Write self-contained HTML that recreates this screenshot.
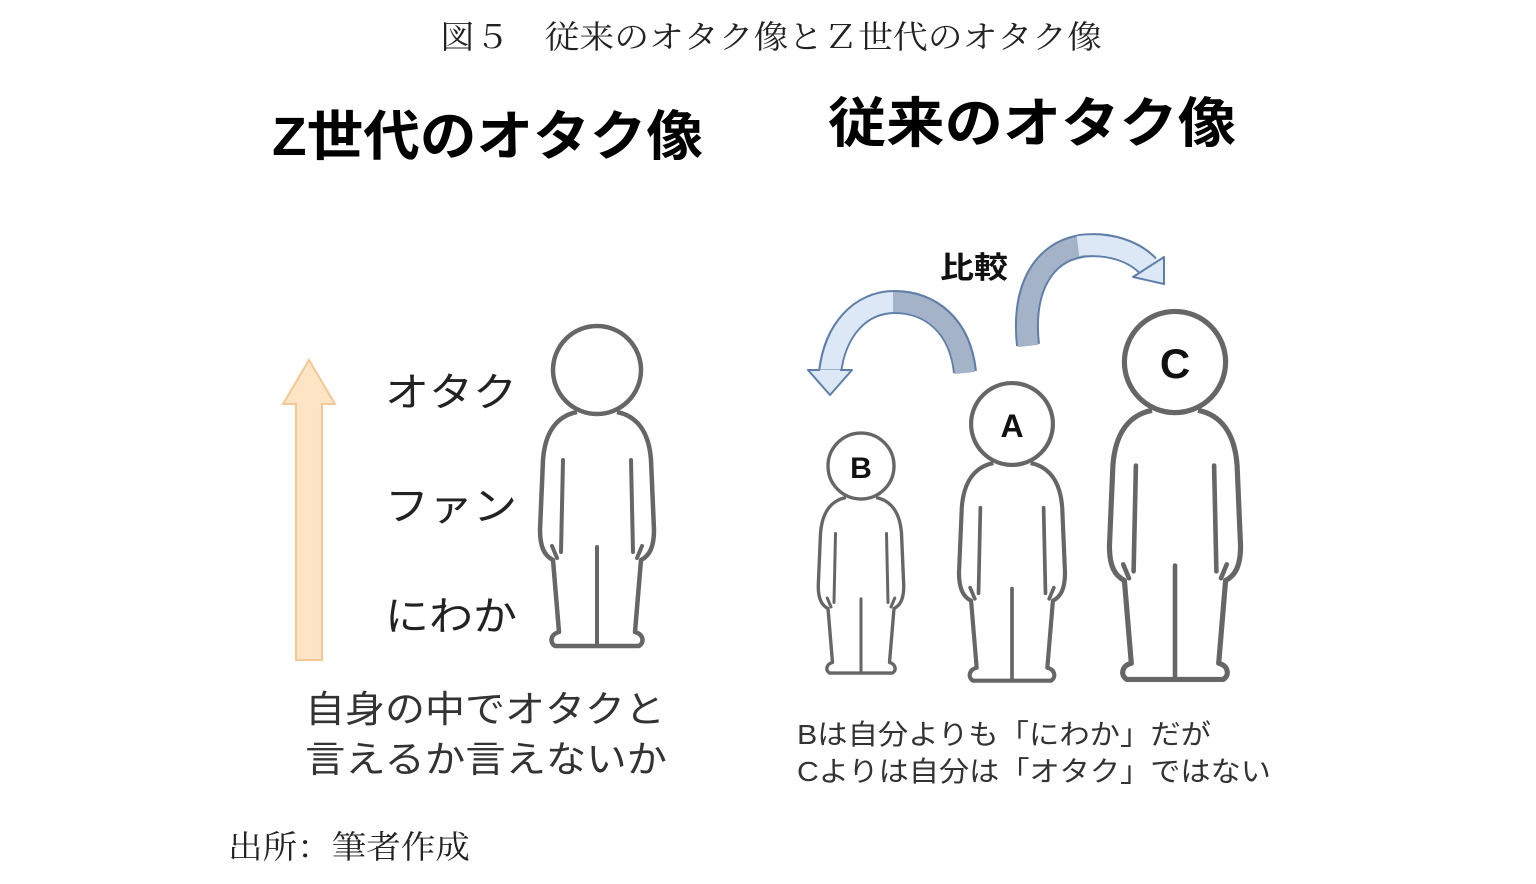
<!DOCTYPE html>
<html><head><meta charset="utf-8"><style>
html,body{margin:0;padding:0;background:#fff;width:1536px;height:884px;overflow:hidden}
svg{display:block}
.serif{font-family:"Noto Serif CJK SC","Liberation Serif",serif}
.sans{font-family:"Liberation Sans","Noto Sans CJK JP",sans-serif}
</style></head><body>
<svg width="1536" height="884" viewBox="0 0 1536 884" xmlns="http://www.w3.org/2000/svg">
<defs>
<g id="fig">
  <ellipse cx="0" cy="47" rx="26" ry="7" fill="#ddd"/>
  <path d="M -20 42 C -40 46 -52 62 -54 90 L -57 160 C -57 178 -52 186 -44 190 L -38 262 C -46 264 -48 272 -42 276 L 42 276 C 48 272 46 264 38 262 L 44 190 C 52 186 57 178 57 160 L 54 90 C 52 62 40 46 20 42" fill="#fff" stroke="#666" stroke-width="4.5" stroke-linejoin="round"/>
  <path d="M -34 90 L -36 182 M 34 90 L 36 182 M 0 177 L 0 276 M -45 176 L -40 188 M 45 176 L 40 188" fill="none" stroke="#666" stroke-width="4" stroke-linecap="round"/>
  <circle cx="0" cy="0" r="44" fill="#fff" stroke="#666" stroke-width="4.5"/>
</g>
</defs>

<text class="serif" x="440" y="48" font-size="32" fill="#222" textLength="662" lengthAdjust="spacingAndGlyphs">図５　従来のオタク像とＺ世代のオタク像</text>

<text class="sans" x="272" y="155" font-size="54" font-weight="bold" fill="#000" textLength="431" lengthAdjust="spacingAndGlyphs">Z世代のオタク像</text>
<text class="sans" x="828" y="142" font-size="54" font-weight="bold" fill="#000" textLength="408" lengthAdjust="spacingAndGlyphs">従来のオタク像</text>

<path d="M309 360 L335 404 L322 404 L322 660 L296 660 L296 404 L283 404 Z" fill="#fde4c4" stroke="#f2c897" stroke-width="2"/>

<text class="sans" x="385" y="406" font-size="40" fill="#222" textLength="132" lengthAdjust="spacingAndGlyphs">オタク</text>
<text class="sans" x="385" y="520" font-size="40" fill="#222" textLength="132" lengthAdjust="spacingAndGlyphs">ファン</text>
<text class="sans" x="385" y="630" font-size="40" fill="#222" textLength="132" lengthAdjust="spacingAndGlyphs">にわか</text>

<use href="#fig" transform="translate(597,370)"/>
<use href="#fig" transform="translate(861,466) scale(0.75)"/>
<use href="#fig" transform="translate(1012,424) scale(0.93)"/>
<use href="#fig" transform="translate(1175,362) scale(1.15)"/>

<text class="sans" x="861" y="478" font-size="30" font-weight="bold" text-anchor="middle" fill="#111">B</text>
<text class="sans" x="1012" y="437" font-size="32" font-weight="bold" text-anchor="middle" fill="#111">A</text>
<text class="sans" x="1175" y="378" font-size="42" font-weight="bold" text-anchor="middle" fill="#111">C</text>

<text class="sans" x="940" y="278" font-size="30" font-weight="bold" fill="#111" textLength="68" lengthAdjust="spacingAndGlyphs">比較</text>

<!-- left curved arrow -->
<g fill="none">
  <path d="M 830 372 C 835 330 860 302 895 302" stroke="#5f7fa8" stroke-width="24"/>
  <path d="M 830 373 C 835 330 860 302 895 302" stroke="#dce8f6" stroke-width="20"/>
  <path d="M 895 302 C 930 302 960 325 965 372" stroke="#5f7fa8" stroke-width="24"/>
  <path d="M 893 302 C 930 302 960 325 965 373" stroke="#a4b3c8" stroke-width="20"/>
</g>
<path d="M808 370 L852 370 L830 395 Z" fill="#dce8f6" stroke="#5f7fa8" stroke-width="2" stroke-linejoin="round"/>
<path d="M 820 371 L 840 371" stroke="#dce8f6" stroke-width="3"/>

<!-- right curved arrow -->
<g fill="none">
  <path d="M 1028 345 C 1022 290 1042 252 1082 246" stroke="#5f7fa8" stroke-width="24"/>
  <path d="M 1028 346 C 1022 290 1042 252 1082 246" stroke="#a4b3c8" stroke-width="20"/>
  <path d="M 1080 246 C 1110 242 1135 252 1148 266" stroke="#5f7fa8" stroke-width="24"/>
  <path d="M 1078 246 C 1110 242 1135 252 1149 267" stroke="#dce8f6" stroke-width="20"/>
</g>
<path d="M1164 257 L1133 277 L1164 284 Z" fill="#dce8f6" stroke="#5f7fa8" stroke-width="2" stroke-linejoin="round"/>

<text class="sans" x="305" y="722" font-size="37" fill="#333" textLength="360" lengthAdjust="spacingAndGlyphs">自身の中でオタクと</text>
<text class="sans" x="305" y="772" font-size="37" fill="#333" textLength="362" lengthAdjust="spacingAndGlyphs">言えるか言えないか</text>

<text class="sans" x="797" y="744" font-size="28" fill="#333" textLength="414" lengthAdjust="spacingAndGlyphs">Bは自分よりも「にわか」だが</text>
<text class="sans" x="797" y="781" font-size="28" fill="#333" textLength="474" lengthAdjust="spacingAndGlyphs">Cよりは自分は「オタク」ではない</text>

<text class="serif" x="228" y="858" font-size="32" fill="#222" textLength="242" lengthAdjust="spacingAndGlyphs">出所：筆者作成</text>
</svg>
</body></html>
